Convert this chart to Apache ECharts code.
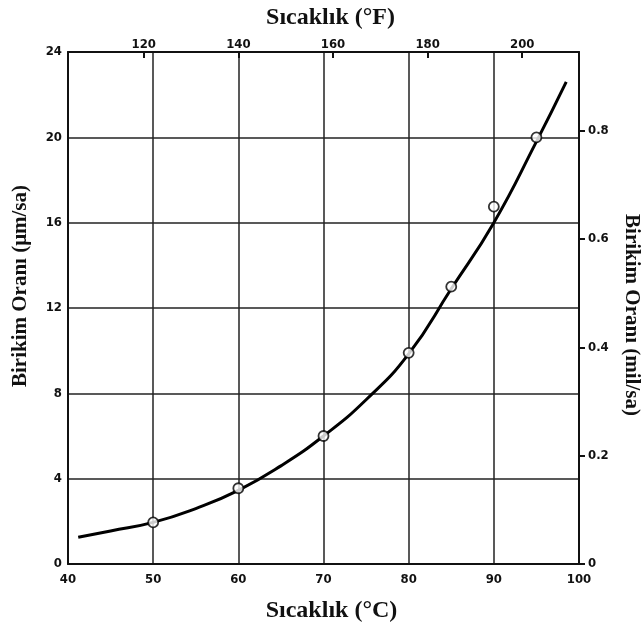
<!DOCTYPE html>
<html>
<head>
<meta charset="utf-8">
<script src="https://cdn.jsdelivr.net/npm/echarts@6/dist/echarts.min.js"></script>
<style>
  html, body { margin: 0; padding: 0; background: #fff; }
  #main { width: 643px; height: 626px; }
</style>
</head>
<body>
<div id="main"></div>
<script>
// eğri üzerinden okunan noktalar (°C, µm/sa)
var curveC = [41.2, 45, 50, 55, 60, 65, 70, 75, 80, 85, 90, 95, 98.5];
var curveRate = [1.25, 1.55, 1.95, 2.6, 3.45, 4.6, 6.0, 7.7, 9.85, 12.9, 16.0, 19.8, 22.6];
// ölçüm noktaları
var pointC = [50, 60, 70, 80, 85, 90, 95];
var pointRate = [1.95, 3.55, 6.0, 9.9, 13.0, 16.75, 20.0];
// üst ve sağ eksen etiketleri
var fTicks = [120, 140, 160, 180, 200];
var milTicks = [0, 0.2, 0.4, 0.6, 0.8];

var myChart = echarts.init(document.getElementById("main"));
var labelFont = {
  color: "#111",
  fontSize: 13,
  fontWeight: "bold",
  fontFamily: "DejaVu Sans Condensed, DejaVu Sans, sans-serif",
};
function nameFont(size, pad) {
  return {
    color: "#111",
    fontSize: size,
    fontWeight: "bold",
    fontFamily: "Liberation Serif, serif",
    padding: pad,
  };
}
var lineBlack = { color: "#111", width: 2 };

var option = {
  animation: false,
  grid: { left: 68, right: 64, top: 52, bottom: 62, outerBoundsMode: "none" },
  xAxis: [
    {
      type: "value",
      position: "bottom",
      min: 40,
      max: 100,
      interval: 10,
      name: "Sıcaklık (°C)",
      nameLocation: "middle",
      nameGap: 35,
      nameTextStyle: nameFont(24, [0, 0, 0, 16]),
      axisLine: { onZero: false, lineStyle: lineBlack },
      axisTick: { show: false },
      axisLabel: Object.assign({ margin: 9 }, labelFont),
      splitLine: { show: true, lineStyle: { color: "#222", width: 1.5 } },
    },
    {
      type: "value",
      position: "top",
      min: 104,
      max: 212,
      name: "Sıcaklık (°F)",
      nameLocation: "middle",
      nameGap: 22,
      nameTextStyle: nameFont(24, [0, 0, 0, 14]),
      axisLine: { onZero: false, lineStyle: lineBlack },
      axisTick: { show: true, inside: true, length: 6, customValues: fTicks, lineStyle: lineBlack },
      axisLabel: Object.assign({ margin: 1, customValues: fTicks }, labelFont),
      splitLine: { show: false },
    },
  ],
  yAxis: [
    {
      type: "value",
      position: "left",
      min: 0,
      max: 24,
      interval: 4,
      name: "Birikim Oranı (μm/sa)",
      nameLocation: "middle",
      nameGap: 37,
      nameTextStyle: nameFont(21, [0, 0, 0, 44]),
      axisLine: { show: true, onZero: false, lineStyle: lineBlack },
      axisTick: { show: false },
      axisLabel: Object.assign({ margin: 6 }, labelFont),
      splitLine: { show: true, lineStyle: { color: "#222", width: 1.5 } },
    },
    {
      type: "value",
      position: "right",
      min: 0,
      max: 24 / 25.4,
      name: "Birikim Oranı (mil/sa)",
      nameLocation: "middle",
      nameRotate: -90,
      nameGap: 42,
      nameTextStyle: nameFont(21, [0, 0, 0, 14]),
      axisLine: { show: true, onZero: false, lineStyle: lineBlack },
      axisTick: { show: true, length: 6, customValues: milTicks, lineStyle: lineBlack },
      axisLabel: Object.assign({
        margin: 9,
        customValues: milTicks,
        formatter: function (v) { return v === 0 ? "0" : v.toFixed(1); },
      }, labelFont),
      splitLine: { show: false },
    },
  ],
  series: [
    {
      type: "line",
      smooth: 0.5,
      showSymbol: false,
      xAxisIndex: 0,
      yAxisIndex: 0,
      lineStyle: { color: "#000", width: 3 },
      data: curveC.map(function (c, i) { return [c, curveRate[i]]; }),
      z: 3,
    },
    {
      type: "scatter",
      xAxisIndex: 0,
      yAxisIndex: 0,
      symbol: "circle",
      symbolSize: 10,
      itemStyle: { color: "#fff", borderColor: "#000", borderWidth: 1.8 },
      data: pointC.map(function (c, i) { return [c, pointRate[i]]; }),
      z: 4,
    },
  ],
};

myChart.setOption(option);
</script>
</body>
</html>
